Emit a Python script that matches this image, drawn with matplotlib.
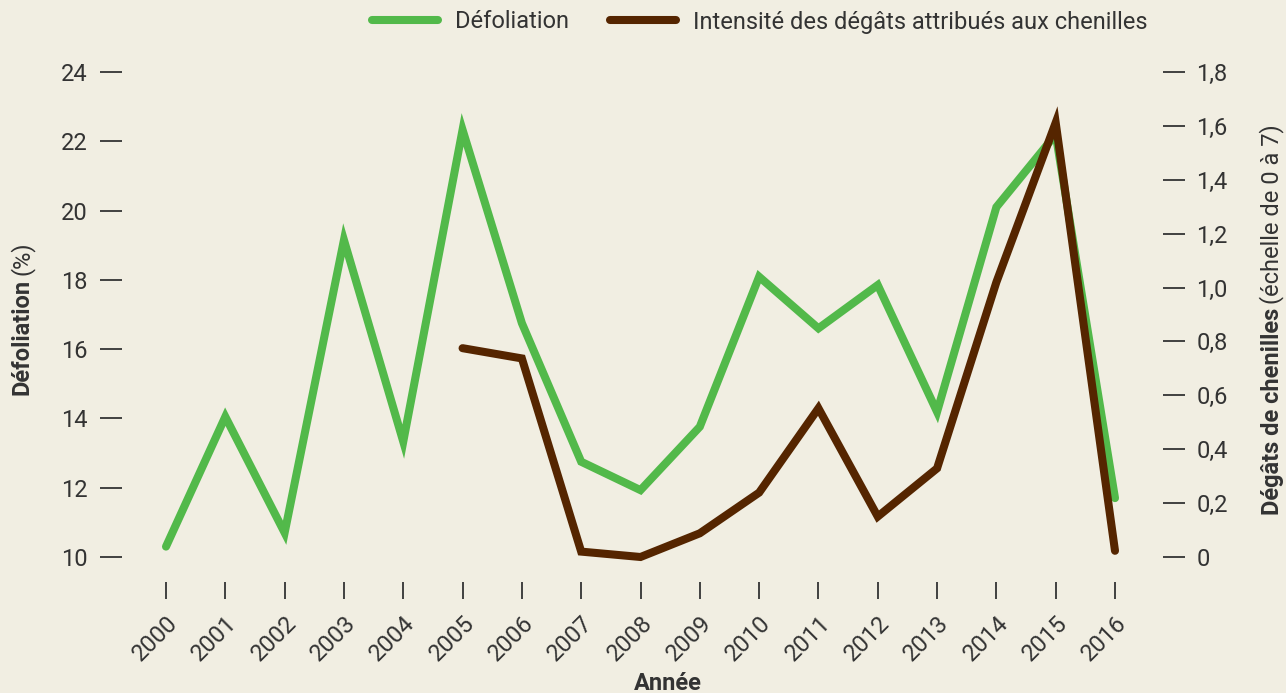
import matplotlib.pyplot as plt
from matplotlib import font_manager

# données
annees = [2000, 2001, 2002, 2003, 2004, 2005, 2006, 2007, 2008,
          2009, 2010, 2011, 2012, 2013, 2014, 2015, 2016]
defoliation = [10.3, 14.05, 10.7, 19.15, 13.33, 22.33, 16.75, 12.75, 11.93,
               13.76, 18.09, 16.6, 17.85, 14.19, 20.1, 22.2, 11.7]
annees_chenilles = [2005, 2006, 2007, 2008, 2009, 2010, 2011, 2012, 2013, 2014, 2015, 2016]
chenilles = [0.775, 0.737, 0.02, 0.0, 0.088, 0.239, 0.552, 0.15, 0.329, 1.02, 1.612, 0.023]

ticks_gauche = [10, 12, 14, 16, 18, 20, 22, 24]
ticks_droite = [0, 0.2, 0.4, 0.6, 0.8, 1.0, 1.2, 1.4, 1.6, 1.8]
labels_droite = ['0', '0,2', '0,4', '0,6', '0,8', '1,0', '1,2', '1,4', '1,6', '1,8']

vert = '#52b94a'
brun = '#552500'
fond = '#f1eee2'
texte = '#333333'

# police étroite si disponible
noms = {f.name for f in font_manager.fontManager.ttflist}
police = 'Liberation Sans Narrow' if 'Liberation Sans Narrow' in noms else 'Roboto'
plt.rcParams['font.family'] = [police, 'DejaVu Sans']

fig = plt.figure(figsize=(12.86, 6.93), dpi=100, facecolor=fond)
ax = fig.add_axes([122 / 1286, 111 / 693, (1163 - 122) / 1286, (582 - 60) / 693])
ax.set_facecolor(fond)
ax2 = ax.twinx()

l1, = ax.plot(annees, defoliation, color=vert, lw=5.8, solid_capstyle='round',
              solid_joinstyle='miter', label='Défoliation')
l2, = ax2.plot(annees_chenilles, chenilles, color=brun, lw=5.8, solid_capstyle='round',
               solid_joinstyle='miter', label='Intensité des dégâts attribués aux chenilles')

px_an = (1115 - 166) / 16
ax.set_xlim(2000 - (166 - 122) / px_an, 2016 + (1163 - 1115) / px_an)
px_unit = (557 - 72) / 14
ylo = 10 - (582 - 557) / px_unit
yhi = 24 + (72 - 60) / px_unit
ax.set_ylim(ylo, yhi)
ax2.set_ylim((ylo - 10) * 1.8 / 14, (yhi - 10) * 1.8 / 14)

for a in (ax, ax2):
    for s in a.spines.values():
        s.set_visible(False)

ax.set_xticks(annees)
ax.set_xticklabels([str(a) for a in annees], rotation=45, ha='right', rotation_mode='anchor')
ax.set_yticks(ticks_gauche)
ax2.set_yticks(ticks_droite)
ax2.set_yticklabels(labels_droite)

ax.tick_params(axis='x', length=12, width=1.3, color=texte, labelcolor=texte,
               labelsize=17, pad=9)
ax.tick_params(axis='y', length=16, width=1.3, color=texte, labelcolor=texte,
               labelsize=17, pad=9)
ax2.tick_params(axis='y', length=16, width=1.3, color=texte, labelcolor=texte,
                labelsize=17, pad=8)

# titres d'axes (gras + normal)
fig.canvas.draw()
r = fig.canvas.get_renderer()
t1 = fig.text(22 / 1286, 1 - 395 / 693, 'Défoliation', rotation=90, fontsize=17,
              fontweight='bold', color=texte, ha='center', va='bottom')
bb = t1.get_window_extent(r)
fig.text(22 / 1286, (bb.y1 + 4) / fig.bbox.height, '(%)', rotation=90, fontsize=17,
         color=texte, ha='center', va='bottom')

t2 = fig.text(1272 / 1286, 1 - 515 / 693, 'Dégâts de chenilles', rotation=90, fontsize=17,
              fontweight='bold', color=texte, ha='center', va='bottom')
bb = t2.get_window_extent(r)
fig.text(1272 / 1286, (bb.y1 + 4) / fig.bbox.height, '(échelle de 0 à 7)', rotation=90,
         fontsize=17, color=texte, ha='center', va='bottom')

fig.text(668 / 1286, 1 - 683 / 693, 'Année', fontsize=17, fontweight='bold',
         color=texte, ha='center', va='center')

fig.legend(handles=[l1, l2], loc='center', bbox_to_anchor=(760 / 1286, 1 - 22 / 693),
           ncol=2, frameon=False, fontsize=17, handlelength=2.8, handletextpad=0.72,
           columnspacing=1.74, labelcolor=texte)

fig.savefig('out.png', dpi=100, facecolor=fond)
